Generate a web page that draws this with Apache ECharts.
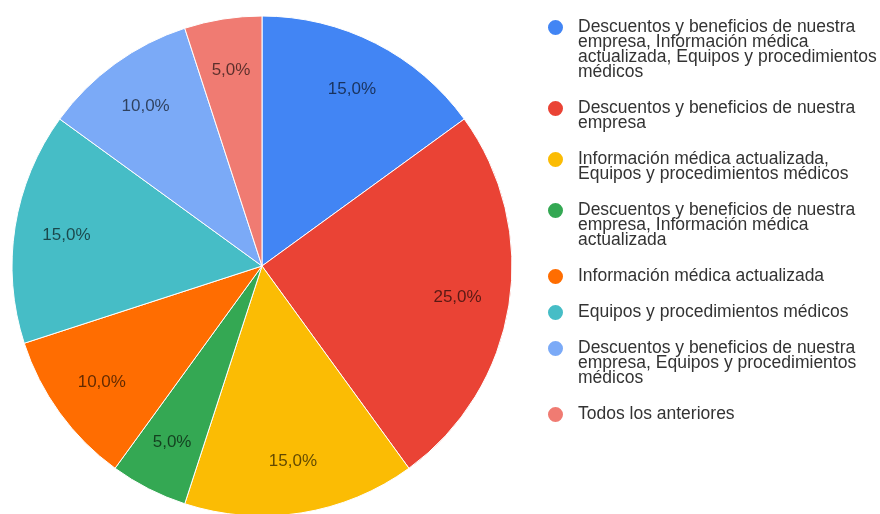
<!DOCTYPE html>
<html><head><meta charset="utf-8">
<script src="https://cdn.jsdelivr.net/npm/echarts@6/dist/echarts.min.js"></script>
<style>html,body{margin:0;padding:0;background:#fff}#c{width:880px;height:514px}</style>
</head><body><div id="c"></div>
<script>
const categories = [
  'Descuentos y beneficios de nuestra empresa, Información médica actualizada, Equipos y procedimientos médicos',
  'Descuentos y beneficios de nuestra empresa',
  'Información médica actualizada, Equipos y procedimientos médicos',
  'Descuentos y beneficios de nuestra empresa, Información médica actualizada',
  'Información médica actualizada',
  'Equipos y procedimientos médicos',
  'Descuentos y beneficios de nuestra empresa, Equipos y procedimientos médicos',
  'Todos los anteriores'
];
const values = [3, 5, 3, 1, 2, 3, 2, 1];
const colors = ['#4285f4', '#ea4335', '#fbbc04', '#34a853', '#ff6d01', '#46bdc6', '#7baaf7', '#f07b72'];

const FONT = 'Arial, "Liberation Sans", sans-serif';
const LEGEND_FS = 17.5, LEGEND_LH = 15, WRAP = 312, ICON = 17, GAP = 21;
const ctx = document.createElement('canvas').getContext('2d');
ctx.font = LEGEND_FS + 'px ' + FONT;
function wrap(text) {
  const words = text.split(' ');
  const lines = [];
  let cur = '';
  for (const w of words) {
    const t = cur ? cur + ' ' + w : w;
    if (cur && ctx.measureText(t).width > WRAP) { lines.push(cur); cur = w; }
    else cur = t;
  }
  if (cur) lines.push(cur);
  return lines;
}
// icon: circle at the top of a box as tall as the wrapped text
function topCircleIcon(h) {
  const r = ICON / 2;
  const cy = LEGEND_LH / 2;
  return 'path://M0,' + cy + ' A' + r + ',' + r + ' 0 1,1 ' + ICON + ',' + cy +
    ' A' + r + ',' + r + ' 0 1,1 0,' + cy + ' Z M' + (r - 0.01) + ',' + Math.max(h, cy + r) +
    ' L' + (r + 0.01) + ',' + Math.max(h, cy + r) + ' M' + (r - 0.01) + ',' + Math.min(0, cy - r) +
    ' L' + (r + 0.01) + ',' + Math.min(0, cy - r);
}

const pieData = categories.map((name, i) => ({ name, value: values[i], itemStyle: { color: colors[i] } }));
const labelData = categories.map((name, i) => ({ name, value: values[i] }));

const legends = [];
let y = 19;
categories.forEach(name => {
  const lines = wrap(name);
  const h = lines.length * LEGEND_LH;
  const r = ICON / 2, cy = LEGEND_LH / 2;
  const boxTop = Math.min(0, cy - r), boxBottom = Math.max(h, cy + r);
  legends.push({
    orient: 'vertical',
    left: 546,
    top: y + boxTop,
    padding: 0,
    itemWidth: ICON,
    itemHeight: boxBottom - boxTop,
    itemGap: 0,
    selectedMode: false,
    icon: topCircleIcon(h),
    formatter: () => lines.join('\n'),
    textStyle: { fontSize: LEGEND_FS, lineHeight: LEGEND_LH, fontFamily: FONT, color: '#333', padding: [0, 0, 0, 9] },
    data: [name]
  });
  y += h + GAP;
});

const chart = echarts.init(document.getElementById('c'), null, { renderer: 'canvas' });
chart.setOption({
  animation: false,
  backgroundColor: '#fff',
  legend: legends,
  series: [
    {
      type: 'pie',
      center: [262, 266],
      radius: [0, 250],
      startAngle: 90,
      clockwise: true,
      silent: true,
      label: { show: false },
      labelLine: { show: false },
      itemStyle: { borderColor: '#fff', borderWidth: 1 },
      data: pieData
    },
    {
      type: 'pie',
      center: [262, 266],
      radius: [140, 250],
      startAngle: 90,
      clockwise: true,
      silent: true,
      itemStyle: { color: 'transparent', borderWidth: 0 },
      label: {
        show: true,
        position: 'inside',
        fontSize: 17,
        fontFamily: FONT,
        color: 'rgba(0,0,0,0.62)',
        formatter: p => p.percent.toFixed(1).replace('.', ',') + '%'
      },
      labelLine: { show: false },
      data: labelData
    }
  ]
});
</script>
</body></html>
